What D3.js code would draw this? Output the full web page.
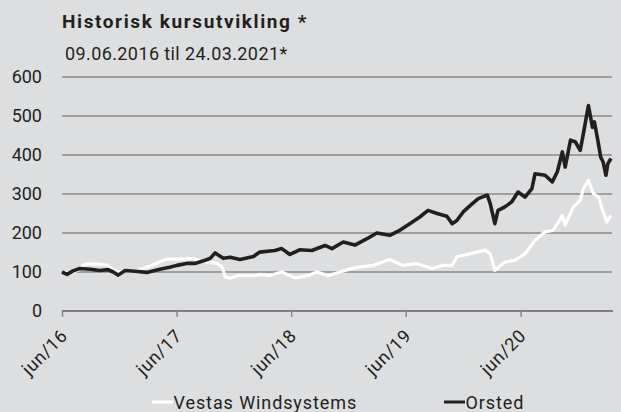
<!DOCTYPE html>
<html><head><meta charset="utf-8">
<script src="https://cdn.jsdelivr.net/npm/d3@7"></script>
<style>html,body{margin:0;padding:0;background:#dddee0;} svg{display:block;font-family:Roboto, "DejaVu Sans", sans-serif;}</style>
</head><body><svg id="chart" width="621" height="412"></svg>
<script>
const titleText = "Historisk kursutvikling *";
const subtitleText = "09.06.2016 til 24.03.2021*";
const seriesNames = ["Vestas Windsystems", "Orsted"];

const orstedDates = ["2016-06-09","2016-06-25","2016-07-14","2016-08-05","2016-09-07","2016-10-08","2016-11-03","2016-11-19","2016-12-05","2016-12-27",
"2017-01-28","2017-03-06","2017-04-17","2017-05-18","2017-06-10","2017-07-11","2017-08-06","2017-09-08","2017-09-24","2017-10-10","2017-11-05","2017-11-27","2017-12-28",
"2018-02-09","2018-03-01","2018-04-18","2018-05-10","2018-06-05","2018-07-06","2018-08-14","2018-09-25","2018-10-17","2018-11-22","2018-12-29",
"2019-02-07","2019-03-09","2019-04-19","2019-05-21","2019-06-22","2019-07-24","2019-08-19","2019-09-17","2019-10-18","2019-11-04","2019-11-19","2019-12-09",
"2020-01-01","2020-01-26","2020-02-24","2020-03-04","2020-03-19","2020-03-29","2020-04-20","2020-05-12","2020-06-01","2020-06-23","2020-07-15","2020-07-25","2020-08-26","2020-09-18","2020-10-04","2020-10-20","2020-10-29","2020-11-15","2020-11-30","2020-12-16","2020-12-26",
"2021-01-11","2021-01-24","2021-01-30","2021-02-10","2021-02-19","2021-02-27","2021-03-08","2021-03-14","2021-03-24"];
const orstedValues = [100,94,103,109,107,104,106,100,92,104,
102,99,107,112,117,122,122,130,135,149,135,138,132,
140,151,155,160,145,157,155,168,160,177,169,
186,200,194,207,224,241,258,250,243,224,232,254,
271,288,297,276,224,258,267,280,305,292,314,352,348,331,357,408,369,438,434,412,455,
527,471,485,438,395,382,348,378,391];

const vestasDates = ["2016-06-09","2016-07-04","2016-07-29","2016-08-21","2016-09-23","2016-10-30","2016-11-16","2016-12-05","2016-12-27",
"2017-01-28","2017-02-14","2017-03-16","2017-04-08","2017-05-09","2017-06-20","2017-07-31","2017-08-22","2017-09-14","2017-10-16","2017-11-01","2017-11-11","2017-11-27","2017-12-22",
"2018-02-15","2018-03-01","2018-04-02","2018-05-10","2018-06-21","2018-08-02","2018-08-30","2018-10-05","2018-11-12","2018-12-14",
"2019-01-15","2019-02-26","2019-04-19","2019-05-30","2019-07-14","2019-09-01","2019-10-06","2019-11-04","2019-11-19",
"2020-01-01","2020-02-18","2020-03-04","2020-03-19","2020-04-20","2020-05-22","2020-06-23","2020-07-25","2020-08-26","2020-09-21","2020-10-20","2020-10-29","2020-11-24","2020-12-16","2020-12-26",
"2021-01-11","2021-01-27","2021-02-13","2021-02-25","2021-03-11","2021-03-24"];
const vestasValues = [100,98,104,120,121,118,108,100,103,
102,107,115,123,133,133,135,128,126,122,113,88,84,91,
91,94,91,100,85,91,100,91,100,108,
113,117,132,117,122,109,117,117,139,
147,156,147,104,126,130,147,181,203,207,245,220,267,284,314,
335,301,292,258,228,245];

const yTicks = [0,100,200,300,400,500,600];
const xTickDates = ["2016-06-09","2017-06-09","2018-06-09","2019-06-09","2020-06-09"];
const xTickLabels = ["jun/16","jun/17","jun/18","jun/19","jun/20"];

const parse = d3.timeParse("%Y-%m-%d");
const svg = d3.select("#chart");
const W = 621, H = 412;
svg.append("rect").attr("width", W).attr("height", H).attr("fill", "#dddee0");

const x = d3.scaleTime().domain([parse("2016-06-09"), parse("2021-03-24")]).range([62, 611]);
const y = d3.scaleLinear().domain([0, 600]).range([311, 77]);

// title
svg.append("text").attr("x", 62).attr("y", 28).attr("font-size", 19).attr("font-weight", "bold")
  .attr("letter-spacing", 1.6).attr("fill", "#231f20").text(titleText);
svg.append("text").attr("x", 65).attr("y", 60).attr("font-size", 18).attr("letter-spacing", 0.4)
  .attr("fill", "#231f20").text(subtitleText);

// gridlines
svg.append("g").selectAll("line").data(yTicks.filter(d => d > 0)).join("line")
  .attr("x1", 62).attr("x2", 612).attr("y1", d => y(d)).attr("y2", d => y(d))
  .attr("stroke", "#8a8a8a").attr("stroke-width", 1.5);

// y labels
svg.append("g").selectAll("text").data(yTicks).join("text")
  .attr("x", 42).attr("y", d => y(d)).attr("dy", "0.36em").attr("text-anchor", "end")
  .attr("font-size", 18).attr("fill", "#231f20").text(d => d);

// x axis
const xAxis = d3.axisBottom(x).tickValues(xTickDates.map(parse)).tickSize(6)
  .tickFormat((d, i) => xTickLabels[i]);
const gx = svg.append("g").attr("transform", "translate(0,311)").call(xAxis);
gx.select(".domain").attr("d", "M62,0H613").attr("stroke", "#231f20").attr("stroke-width", 1.2);
gx.selectAll(".tick line").attr("stroke", "#8a8a8a").attr("stroke-width", 1.5);
gx.selectAll(".tick text").attr("font-size", 18).attr("letter-spacing", 0.6)
  .attr("font-family", "Roboto, sans-serif").attr("fill", "#231f20")
  .attr("text-anchor", "end").attr("y", 0).attr("dy", 0)
  .attr("transform", "translate(6,26) rotate(-45)");

// lines
const line = d3.line().x(d => x(d[0])).y(d => y(d[1]));
const vestas = vestasDates.map((d, i) => [parse(d), vestasValues[i]]);
const orsted = orstedDates.map((d, i) => [parse(d), orstedValues[i]]);
svg.append("path").datum(vestas).attr("d", line).attr("fill", "none")
  .attr("stroke", "#ffffff").attr("stroke-width", 3.2).attr("stroke-linejoin", "round");
svg.append("path").datum(orsted).attr("d", line).attr("fill", "none")
  .attr("stroke", "#231f20").attr("stroke-width", 3.6).attr("stroke-linejoin", "round");

// legend
const legendItems = [
  {name: seriesNames[0], color: "#ffffff", x: 152},
  {name: seriesNames[1], color: "#231f20", x: 444}
];
const lg = svg.append("g").selectAll("g").data(legendItems).join("g")
  .attr("transform", d => `translate(${d.x},402)`);
lg.append("line").attr("x1", 0).attr("x2", 21).attr("stroke", d => d.color).attr("stroke-width", 3);
lg.append("text").attr("x", 21.5).attr("y", 6.5).attr("font-size", 18).attr("letter-spacing", 0.9)
  .attr("fill", "#231f20").text(d => d.name);
</script>
</body></html>
